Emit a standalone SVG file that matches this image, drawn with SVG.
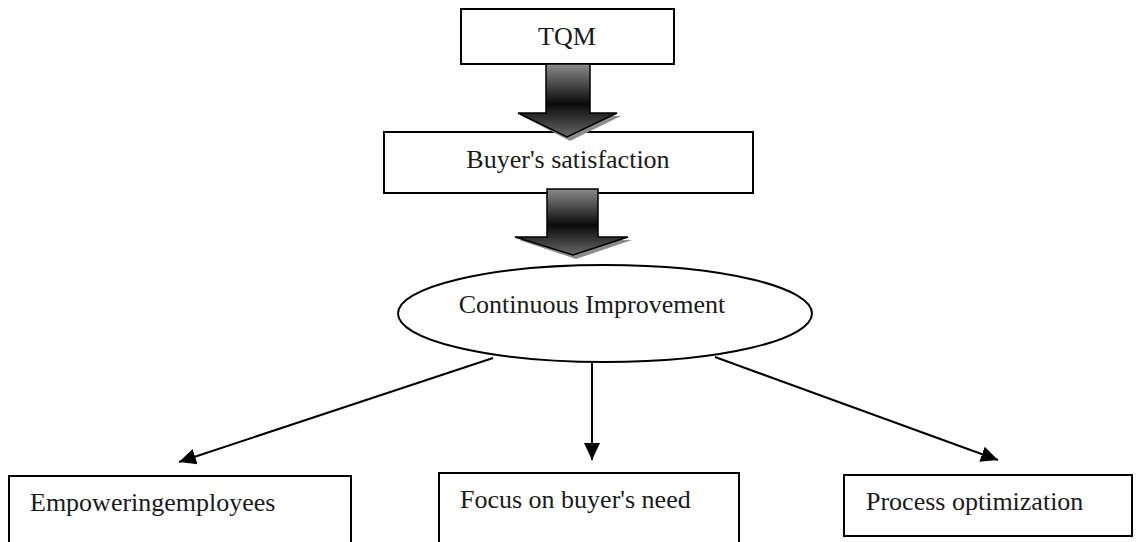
<svg xmlns="http://www.w3.org/2000/svg" width="1141" height="542" viewBox="0 0 1141 542">
<style>
.box{fill:#fff;stroke:#000;stroke-width:2}
.lbl{font-family:"Liberation Serif","Times New Roman",serif;font-size:26px;fill:#1a1a1a}
.conn{stroke:#000;stroke-width:2;fill:none}
.blk{stroke:#000;stroke-width:1.5;fill:url(#g)}
.shd{fill:#8c8c8c}
</style>
<defs>
<linearGradient id="g" x1="0" y1="0" x2="0" y2="1">
<stop offset="0" stop-color="#8a8a8a"/>
<stop offset="0.55" stop-color="#0a0a0a"/>
<stop offset="0.75" stop-color="#333"/>
<stop offset="1" stop-color="#6a6a6a"/>
</linearGradient>
<marker id="ah" markerUnits="userSpaceOnUse" markerWidth="18" markerHeight="18" viewBox="0 0 18 18" refX="17" refY="9" orient="auto">
<path d="M0,1 L17,9 L0,17 Z" fill="#000"/>
</marker>
</defs>
<g id="tqm">
<rect class="box" x="461" y="9" width="213" height="55"/>
<text class="lbl" x="567" y="45" text-anchor="middle">TQM</text>
</g>
<g id="buyer-satisfaction">
<rect class="box" x="384" y="132" width="369" height="61"/>
<text class="lbl" x="568" y="168" text-anchor="middle">Buyer's satisfaction</text>
</g>
<g id="continuous-improvement">
<ellipse class="box" cx="605" cy="313.5" rx="207" ry="48.5"/>
<text class="lbl" x="592" y="313" text-anchor="middle">Continuous Improvement</text>
</g>
<g id="empowering">
<rect class="box" x="9" y="476" width="342" height="80"/>
<text class="lbl" x="30" y="511">Empoweringemployees</text>
</g>
<g id="focus">
<rect class="box" x="439" y="473" width="300" height="80"/>
<text class="lbl" x="460" y="508">Focus on buyer's need</text>
</g>
<g id="process">
<rect class="box" x="844" y="475" width="288" height="61"/>
<text class="lbl" x="866" y="510">Process optimization</text>
</g>
<g id="connectors">
<g id="blockarrow1">
<polygon class="shd" points="522,116 621,116 570,141"/>
<polygon class="blk" points="546,64 590,64 590,113 617,113 567,137 518,113 546,113"/>
</g>
<g id="blockarrow2">
<polygon class="shd" points="519,240 632,240 576,259"/>
<polygon class="blk" points="547,189 598,189 598,237 628,237 573,255 515,237 547,237"/>
</g>
<line class="conn" x1="493" y1="358" x2="179" y2="462" marker-end="url(#ah)"/>
<line class="conn" x1="592" y1="361" x2="592" y2="460" marker-end="url(#ah)"/>
<line class="conn" x1="715" y1="357" x2="998" y2="460" marker-end="url(#ah)"/>
</g>
</svg>
